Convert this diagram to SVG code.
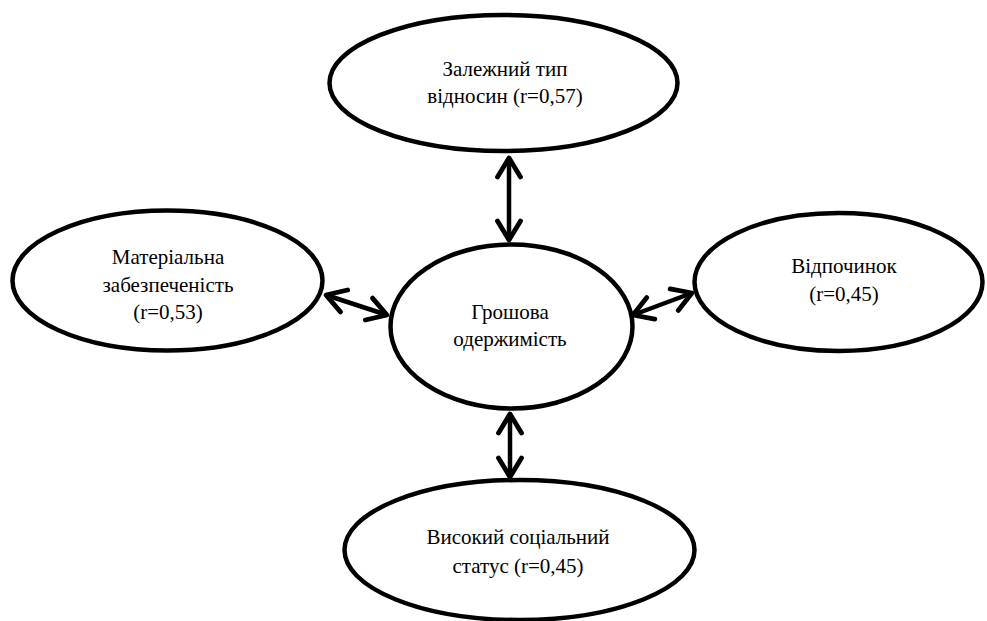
<svg xmlns="http://www.w3.org/2000/svg" width="987" height="621" viewBox="0 0 987 621">
<style>
.node ellipse{fill:#fff;stroke:#000;stroke-width:4.5}
.node text{font-family:'Liberation Serif','Times New Roman',serif;font-size:21px;fill:#000;text-anchor:middle}
.conn line{stroke:#000;stroke-width:4.5;marker-start:url(#ah);marker-end:url(#ah)}
</style>
<defs>
<marker id="ah" markerUnits="userSpaceOnUse" viewBox="-25 -15 30 30" refX="0" refY="0" markerWidth="30" markerHeight="30" orient="auto-start-reverse" overflow="visible">
<path d="M-19,-11.5 L0,0 L-19,11.5" fill="none" stroke="#000" stroke-width="4.8" stroke-linecap="round" stroke-linejoin="round"/>
</marker>
</defs>
<rect width="987" height="621" fill="#fff"/>
<g id="connectors" class="conn">
<line x1="509" y1="158" x2="509" y2="240"/>
<line x1="510" y1="414" x2="510" y2="477"/>
<line x1="326" y1="295" x2="387" y2="315"/>
<line x1="633" y1="315" x2="692" y2="293"/>
</g>
<g id="n-top" class="node">
<ellipse cx="503.5" cy="83" rx="174" ry="68"/>
<text x="505" y="76">Залежний тип</text>
<text x="505" y="103">відносин (r=0,57)</text>
</g>
<g id="n-left" class="node">
<ellipse cx="167.5" cy="280.5" rx="155" ry="70"/>
<text x="168" y="264">Матеріальна</text>
<text x="168" y="292">забезпеченість</text>
<text x="168" y="319">(r=0,53)</text>
</g>
<g id="n-center" class="node">
<ellipse cx="511.5" cy="326.5" rx="121" ry="82"/>
<text x="510" y="319">Грошова</text>
<text x="510" y="346">одержимість</text>
</g>
<g id="n-right" class="node">
<ellipse cx="838.5" cy="282" rx="144" ry="69"/>
<text x="844" y="273">Відпочинок</text>
<text x="844" y="301">(r=0,45)</text>
</g>
<g id="n-bottom" class="node">
<ellipse cx="519.5" cy="550" rx="175" ry="70"/>
<text x="518" y="544">Високий соціальний</text>
<text x="518" y="573">статус (r=0,45)</text>
</g>
</svg>
